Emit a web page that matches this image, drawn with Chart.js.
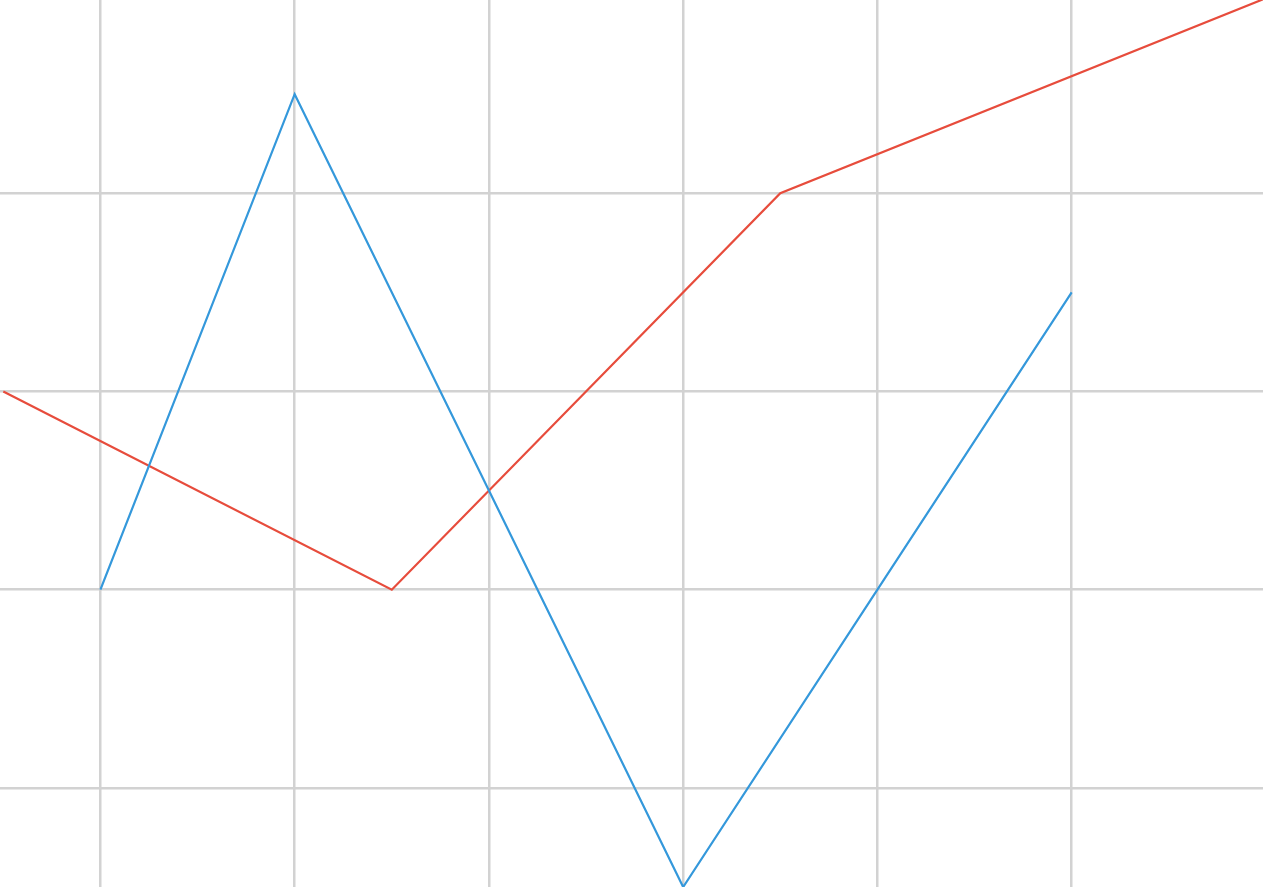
<!DOCTYPE html>
<html>
<head>
<meta charset="utf-8">
<script src="https://cdn.jsdelivr.net/npm/chart.js@4.4.0/dist/chart.umd.min.js"></script>
<style>
  html, body { margin: 0; padding: 0; background: #ffffff; overflow: hidden; }
  #wrap { width: 1263px; height: 887px; position: relative; }
</style>
</head>
<body>
<div id="wrap"><canvas id="lineChart"></canvas></div>
<script>
// ....................................     data     ....................................

const blueX = [1, 2, 3, 4, 5, 6];
const blueY = [0, 5, 1, -3, 0, 3];

const redX = [0.5, 2.5, 4.5, 8.5];
const redY = [2, 0, 4, 7.15];

const xTicks = [1, 2, 3, 4, 5, 6];
const yTicks = [-2, 0, 2, 4];

function toPoints(xs, ys) {
    return xs.map(function (x, i) {
        return { x: x, y: ys[i] };
    });
}

const gridColor = '#d2d2d2';

new Chart(document.getElementById('lineChart'), {
    type: 'line',
    data: {
        datasets: [{
            data: toPoints(blueX, blueY),
            borderColor: '#3498db',
            borderWidth: 2.2,
            pointRadius: 0,
            tension: 0,
            fill: false
        }, {
            data: toPoints(redX, redY),
            borderColor: '#e74c3c',
            borderWidth: 2.2,
            pointRadius: 0,
            tension: 0,
            fill: false
        }]
    },
    options: {
        responsive: true,
        maintainAspectRatio: false,
        animation: false,
        layout: { padding: 0 },
        plugins: {
            legend: { display: false },
            tooltip: { enabled: false }
        },
        scales: {
            x: {
                type: 'linear',
                min: 0.483,
                max: 6.985,
                afterBuildTicks: function (axis) {
                    axis.ticks = xTicks.map(function (v) { return { value: v }; });
                },
                ticks: { display: false },
                border: { display: false },
                grid: { color: gridColor, lineWidth: 2.5, drawTicks: false }
            },
            y: {
                type: 'linear',
                min: -3,
                max: 5.95,
                afterBuildTicks: function (axis) {
                    axis.ticks = yTicks.map(function (v) { return { value: v }; });
                },
                ticks: { display: false },
                border: { display: false },
                grid: { color: gridColor, lineWidth: 2.5, drawTicks: false }
            }
        }
    }
});
</script>
</body>
</html>
